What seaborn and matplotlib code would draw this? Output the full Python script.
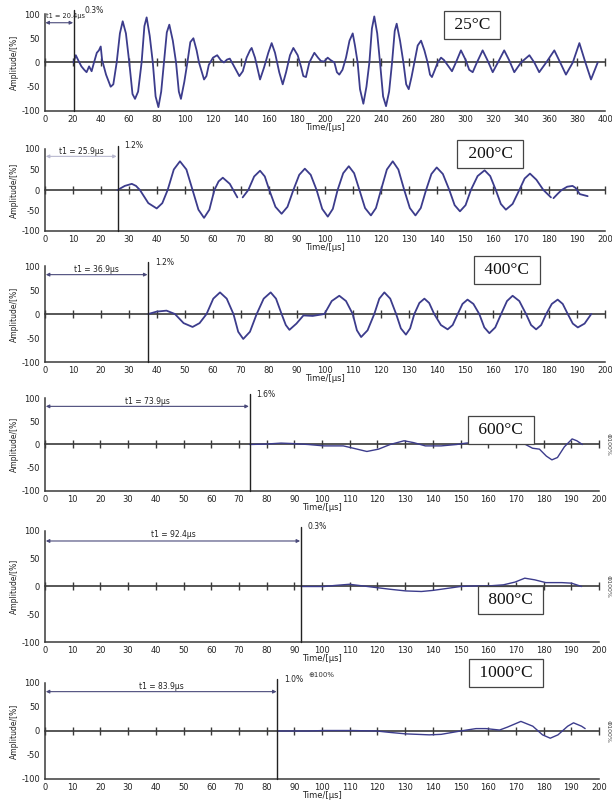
import numpy as np
import pandas as pd
import matplotlib
matplotlib.use("Agg")
import matplotlib.pyplot as plt
import seaborn as sns

sns.set_theme(style="white")
plt.rcParams['font.family'] = ['DejaVu Sans']
plt.rcParams['axes.unicode_minus'] = False

# ---------------- data ----------------
temps = ["25°C", "200°C", "400°C", "600°C", "800°C", "1000°C"]
t1_values = [20.4, 25.9, 36.9, 73.9, 92.4, 83.9]
pct_labels = ["0.3%", "1.2%", "1.2%", "1.6%", "0.3%", "1.0%"]
x_max = [400, 200, 200, 200, 200, 200]
y_ticks = [-100, -50, 0, 50, 100]

t_25 = [20.4, 22, 24, 26, 28, 29.7, 31.5, 33.3, 35, 37, 38.5, 39.8, 40.8, 43.6, 46.9, 48.8,
        51.2, 53.5, 55.5, 57.8, 60.2, 62.5, 64.3, 66.5, 69, 71, 72.6, 74.8, 77, 79, 81, 83,
        85, 87, 88.8, 91.3, 93.6, 95.6, 97.1, 99.5, 101.7, 103.8, 106, 108.3, 110, 113.6,
        115.3, 117, 120, 123, 125.5, 127.8, 130, 132, 134.5, 138.8, 141.3, 144, 146.4, 147.6,
        150, 152.4, 153.6, 156.5, 159.5, 161.9, 164.3, 167.3, 169.8, 172.2, 175, 177.4, 180.5,
        183, 184.5, 186.4, 188.8, 192.4, 195, 197.1, 199.5, 201.9, 204, 206.7, 208.5, 210.2,
        212.5, 215, 217.5, 219.8, 221.4, 223.3, 225, 227.4, 229.6, 231.7, 233.5, 235.2, 237.3,
        239.3, 241.5, 243.6, 245.8, 247.9, 249.8, 251.2, 253.6, 256, 258, 259.8, 261.8, 263.8,
        266.2, 268.6, 271, 273.3, 275, 276.4, 278.5, 280.5, 282.9, 285, 287.5, 290.7, 293.5,
        297.1, 300.5, 303, 305.5, 308.5, 312.6, 316, 319.8, 323.5, 328, 331.5, 335.2, 340,
        346, 349.5, 353, 358, 363.8, 368, 372.1, 377, 381.7, 386, 390, 394.8]
a_25 = [0, 15, 3, -8, -15, -20, -8, -18, 0, 20, 25, 33, 5, -25, -50, -45,
        0, 60, 85, 60, 0, -65, -75, -60, 0, 75, 93, 55, 0, -70, -92, -60,
        0, 62, 78, 45, 0, -60, -75, -40, 0, 42, 50, 25, 0, -35,
        -28, -5, 10, 15, 5, 0, 6, 8, -5, -28, -18, 10, 25, 30,
        10, -20, -35, -10, 20, 40, 20, -20, -45, -20, 15, 30, 15,
        -10, -28, -30, 0, 20, 10, 3, 2, 10, 5, 0, -20, -25,
        -15, 10, 45, 60, 35, 0, -55, -85, -50, 0, 70, 95, 60,
        0, -70, -90, -60, 0, 65, 80, 45, 0, -45, -55, -30, 0,
        35, 45, 25, 0, -25, -30, -15, 0, 10, 5, -5, -18, 0,
        25, 5, -15, -20, 0, 25, 5, -20, 0, 25, 5, -20, 0,
        15, 0, -20, 0, 25, 0, -25, 0, 40, 0, -35, 0]

t_200_a = [25.9, 28.5, 31, 32.5, 33.9, 36.9, 39.9, 41.9, 43.8, 46, 48.2, 50.5, 52.7, 54.8,
           56.8, 58.7, 60.5, 62, 63.5, 66, 68.7]
a_200_a = [0, 10, 15, 10, 0, -32, -45, -32, 0, 50, 70, 50, 0, -48,
           -68, -48, 0, 21, 30, 15, -18]
t_200_b = [70.6, 72.6, 74.7, 76.8, 78.5, 80.1, 82.3, 84.5, 86.6, 88.7, 90.8, 92.8, 94.9, 97,
           99, 101, 102.8, 104.5, 106.5, 108.5, 110.4, 112.3, 114.3, 116.4, 118.2, 120, 122.1,
           124.2, 126.2, 128.3, 130.3, 132.3, 134.2, 136.1, 138, 139.9, 142.1, 144.4, 146.3,
           148.2, 150.2, 152.1, 154.5, 157, 159, 161, 162.8, 164.6, 167, 169.4, 171.3, 173.2,
           175.5, 178, 180.7]
a_200_b = [-18, 0, 33, 47, 33, 0, -41, -58, -41, 0, 37, 52, 37, 0,
           -46, -65, -46, 0, 41, 58, 41, 0, -44, -62, -44, 0, 50,
           70, 50, 0, -44, -62, -44, 0, 39, 55, 39, 0, -37,
           -52, -37, 0, 34, 48, 34, 0, -34, -48, -34, 0, 28, 40,
           25, 0, -18]
t_200_c = [181.6, 183, 184.5, 186.5, 188.4, 189.5, 191, 193.8]
a_200_c = [-20, -10, 0, 8, 10, 5, -10, -15]

t_400 = [36.9, 39.9, 43.4, 46.4, 49.5, 52.7, 55.2, 57.7, 60.1, 62.5, 64.9, 67.3, 69, 70.8,
         73.2, 75.6, 78.1, 80.6, 82.5, 84.5, 86, 87.3, 89.8, 92.3, 95.6, 99.8, 102.4, 105.1,
         107.5, 109.9, 111.4, 112.9, 115.2, 117.6, 119.4, 121.2, 123.3, 125.4, 127.1, 128.9,
         130.4, 131.9, 133.7, 135.5, 137.2, 139, 141.4, 143.8, 145.6, 147.4, 149.1, 150.9,
         153, 155.1, 156.9, 158.7, 160.8, 162.9, 165, 167, 169.4, 171.8, 173.6, 175.4, 177.2,
         179, 181, 183.1, 184.9, 186.7, 188.5, 190.3, 192.7, 195.1]
a_400 = [0, 5, 7, 0, -19, -27, -19, 0, 32, 45, 32, 0, -37, -52,
         -37, 0, 32, 45, 32, 0, -23, -33, -20, -3, -4, 0, 27, 38,
         27, 0, -34, -48, -34, 0, 32, 45, 32, 0, -30, -43,
         -30, 0, 23, 32, 23, 0, -23, -32, -23, 0, 21, 30,
         21, 0, -28, -40, -28, 0, 27, 38, 27, 0, -23, -32, -23,
         0, 21, 30, 21, 0, -20, -28, -20, 0]

t_600 = [73.9, 80, 85.2, 89.4, 95, 100.7, 107.7, 111.3, 116.2, 120.4, 124.6, 129.6, 133.1,
         137.3, 143, 148.6, 152, 158, 165, 170, 173.5, 176, 178.5, 181, 183, 185, 187.5, 190.3,
         192, 194]
a_600 = [0, 1, 3, 2, 0, -3, -3, -8, -15, -10, 0, 8, 4,
         -3, -3, 0, 3, 6, 10, 8, 0, -8, -10, -25, -33, -28, -5, 12,
         8, 0]

t_800 = [92.4, 100.7, 104.9, 109.9, 114.8, 119.7, 124.6, 130.3, 135.9, 140.1, 145.8, 150,
         155, 160, 165.5, 169.7, 173.2, 176.8, 180.8, 186.6, 190.1, 193.7]
a_800 = [0, 0, 2, 4, 1, -2, -5, -8, -9, -7, -3, 0,
         1, 1, 3, 8, 15, 12, 7, 7, 6, 0]

t_1000 = [83.9, 95, 100.7, 110.6, 119.7, 124.6, 130.3, 138.7, 143, 150, 155.6, 159.2, 164.1,
          166.9, 171.8, 176.1, 179.6, 182.4, 185.2, 188.7, 190.8, 193.7, 195]
a_1000 = [0, 0, 1, 1, 0, -3, -6, -8, -7, 0, 5, 5, 2,
          8, 20, 10, -8, -15, -8, 10, 17, 10, 5]

series = [
    [(t_25, a_25)],
    [(t_200_a, a_200_a), (t_200_b, a_200_b), (t_200_c, a_200_c)],
    [(t_400, a_400)],
    [(t_600, a_600)],
    [(t_800, a_800)],
    [(t_1000, a_1000)],
]

# ---------------- layout (pixels in a 612x802 canvas) ----------------
W, H = 612, 802
rects_px = [(45, 605, 14, 111), (45, 605, 149, 231), (45, 605, 266, 362),
            (45, 599, 398, 491), (45, 599, 531, 642), (45, 599, 683, 779)]
tick_step = [20, 10, 10, 10, 10, 10]
box_pos = [(305, 78), (159, 87), (165, 92), (164.6, 32), (168, -25), (166.4, 120)]
wave_lw = [1.3, 1.3, 1.3, 1.0, 1.0, 1.0]
wave_color = "#3c3c8c"
axis_color = "#3a3a3a"

fig = plt.figure(figsize=(W / 100, H / 100), dpi=100)
fig.patch.set_facecolor("white")

for i in range(6):
    l, r, t, b = rects_px[i]
    ax = fig.add_axes([l / W, 1 - b / H, (r - l) / W, (b - t) / H])
    ax.set_facecolor("white")
    rows = []
    for k, (tt, aa) in enumerate(series[i]):
        rows.append(pd.DataFrame({"time": tt, "amp": aa, "seg": k}))
    df = pd.concat(rows, ignore_index=True)
    sns.lineplot(data=df, x="time", y="amp", units="seg", estimator=None, sort=False,
                 color=wave_color, lw=wave_lw[i], ax=ax, legend=False, zorder=3)

    xm = x_max[i]
    ax.set_xlim(0, xm)
    ax.set_ylim(-100, 100)
    xt = np.arange(0, xm + 1, tick_step[i])
    ax.set_xticks(xt)
    ax.set_yticks(y_ticks)
    ax.set_xticklabels([str(v) for v in xt])
    ax.set_yticklabels([str(v) for v in y_ticks])
    for s in ["top", "right"]:
        ax.spines[s].set_visible(False)
    for s in ["left", "bottom"]:
        ax.spines[s].set_color(axis_color)
        ax.spines[s].set_linewidth(1.1)
    ax.tick_params(axis="x", direction="inout", length=6, width=1, colors=axis_color,
                   labelsize=6, pad=0, labelcolor="#222222")
    ax.tick_params(axis="y", direction="out", length=3, width=1, colors=axis_color,
                   labelsize=6, pad=0.5, labelcolor="#222222")
    ax.set_xlabel("Time/[µs]", fontsize=6, labelpad=-0.5, color="#222222")
    ax.set_ylabel("Amplitude/[%]", fontsize=5.5, labelpad=2, color="#222222")

    # zero line with crossing ticks
    sec = ax.secondary_xaxis(0.5)
    sec.set_xticks(xt)
    sec.tick_params(direction="inout", length=6, width=1, colors=axis_color,
                    labeltop=False, labelbottom=False)
    for s in sec.spines.values():
        s.set_color(axis_color)
        s.set_linewidth(1.2)

    # t1 marker
    t1 = t1_values[i]
    ax.axvline(t1, ymin=0, ymax=1.04, color="#222222", lw=1.0, clip_on=False, zorder=4)
    arrow_col = "#b9b9d0" if i == 1 else "#4a4a7a"
    ax.annotate("", xy=(0.3, 82), xytext=(t1 - 0.3, 82),
                arrowprops=dict(arrowstyle="<|-|>", color=arrow_col, lw=0.8,
                                mutation_scale=5, shrinkA=0, shrinkB=0))
    if i == 0:
        ax.text(1.0, 95, f"t1 = {t1}µs", fontsize=4.8, ha="left", va="center", color="#222222")
        ax.text(t1 + 0.02 * xm, 108, pct_labels[i], fontsize=5.5, ha="left", va="center",
                color="#222222", clip_on=False)
    else:
        ax.text(t1 / 2, 93, f"t1 = {t1}µs", fontsize=5.5, ha="center", va="center",
                color="#222222")
        ax.text(t1 + (0.012 * xm), 108, pct_labels[i], fontsize=5.5, ha="left", va="center",
                color="#222222", clip_on=False)

    # temperature box
    bx, by = box_pos[i]
    ax.text(bx, by, " " + temps[i] + " ", fontsize=12.5, family="Liberation Serif",
            ha="center", va="center", color="#111111", zorder=6, clip_on=False,
            bbox=dict(boxstyle="square,pad=0.35", fc="white", ec="#444444", lw=0.9))

    if i >= 3:
        ax.text(1.012, 0.5, "⊕100%", transform=ax.transAxes, rotation=270, fontsize=4.5,
                ha="left", va="center", color="#444444")

# zoom icon text above the last panel
fig.axes[-1].text(95, 117, "⊕100%", fontsize=5, ha="left", va="center",
                  color="#333333", clip_on=False)

fig.savefig("out.png", dpi=100, facecolor="white")
